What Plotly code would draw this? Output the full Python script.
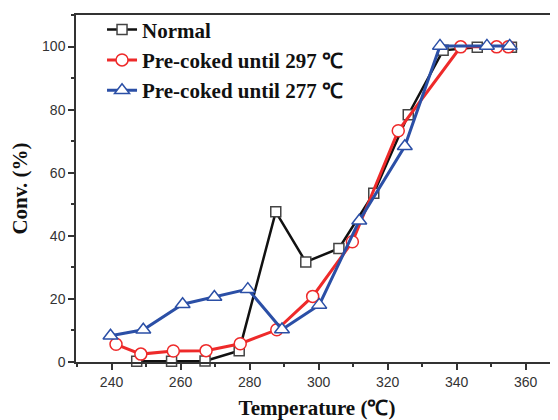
import plotly.graph_objects as go

# Data
normal_x = [247.3, 257.4, 267.1, 277.0, 287.6, 296.3, 305.9, 316.0, 326.0, 336.1, 346.0, 355.9]
normal_y = [0.2, 0.2, 0.3, 3.6, 47.6, 31.7, 36.0, 53.5, 78.4, 98.8, 99.8, 99.8]

pc297_x = [241.3, 248.5, 257.9, 267.4, 277.3, 287.9, 298.3, 309.8, 323.1, 341.2, 351.6, 355.0]
pc297_y = [5.6, 2.5, 3.5, 3.6, 5.8, 10.2, 20.8, 38.1, 73.3, 99.9, 99.9, 99.9]

pc277_x = [239.7, 249.2, 260.6, 269.8, 279.5, 289.4, 300.2, 311.8, 325.0, 335.2, 348.8, 355.4]
pc277_y = [8.3, 10.2, 18.3, 20.6, 23.1, 10.3, 18.1, 44.8, 68.4, 100.2, 100.2, 100.2]

names = ["Normal", "Pre-coked until 297 \u2103", "Pre-coked until 277 \u2103"]

serif = "Liberation Serif, Times New Roman, serif"
sans = "Liberation Sans, Arial, sans-serif"

fig = go.Figure()
fig.add_trace(go.Scatter(
    x=normal_x, y=normal_y, name=names[0], mode="lines+markers",
    line=dict(color="#111111", width=2.5),
    marker=dict(symbol="square", size=10, color="white", line=dict(color="#444444", width=1.5)),
    cliponaxis=False,
))
fig.add_trace(go.Scatter(
    x=pc297_x, y=pc297_y, name=names[1], mode="lines+markers",
    line=dict(color="#ee2a2a", width=3),
    marker=dict(symbol="circle", size=12, color="white", line=dict(color="#ee2a2a", width=1.5)),
    cliponaxis=False,
))
fig.add_trace(go.Scatter(
    x=pc277_x, y=pc277_y, name=names[2], mode="lines+markers",
    line=dict(color="#2b4fa6", width=3),
    marker=dict(symbol="triangle-up", size=13, color="white", line=dict(color="#2b4fa6", width=1.5)),
    cliponaxis=False,
))

# The page body has an 8px default margin, so the figure is sized to fit the window
fig.update_layout(
    width=550, height=412,
    margin=dict(l=68, r=0, t=7, b=58),
    plot_bgcolor="white", paper_bgcolor="white",
    showlegend=True,
    legend=dict(
        x=0.054, y=1.016, xanchor="left", yanchor="top",
        bgcolor="rgba(0,0,0,0)",
        font=dict(family=serif, size=21, color="#111111", weight="bold"),
        tracegroupgap=0, itemsizing="trace",
    ),
    font=dict(family=sans, color="#333333"),
)

fig.update_xaxes(
    range=[229.7, 369.4], tickmode="linear", tick0=240, dtick=20,
    showline=True, linecolor="#333333", linewidth=1.5, mirror=True,
    ticks="outside", ticklen=6, tickwidth=1.5, tickcolor="#333333",
    minor=dict(ticks="outside", ticklen=3, tickwidth=1.5, tickcolor="#333333", dtick=10, tick0=240),
    showgrid=False, zeroline=False,
    tickfont=dict(family=sans, size=14, color="#333333"),
    title=dict(text="Temperature (\u2103)", font=dict(family=serif, size=21, color="#111111", weight="bold"), standoff=14),
)
fig.update_yaxes(
    range=[0, 110], tickmode="linear", tick0=0, dtick=20,
    showline=True, linecolor="#333333", linewidth=1.5,
    ticks="outside", ticklen=6, tickwidth=1.5, tickcolor="#333333",
    minor=dict(ticks="outside", ticklen=3, tickwidth=1.5, tickcolor="#333333", dtick=10, tick0=0),
    showgrid=False, zeroline=False,
    tickfont=dict(family=sans, size=14, color="#333333"),
    title=dict(text="Conv. (%)", font=dict(family=serif, size=21, color="#111111", weight="bold"), standoff=14),
)

fig.write_html("out.html")
